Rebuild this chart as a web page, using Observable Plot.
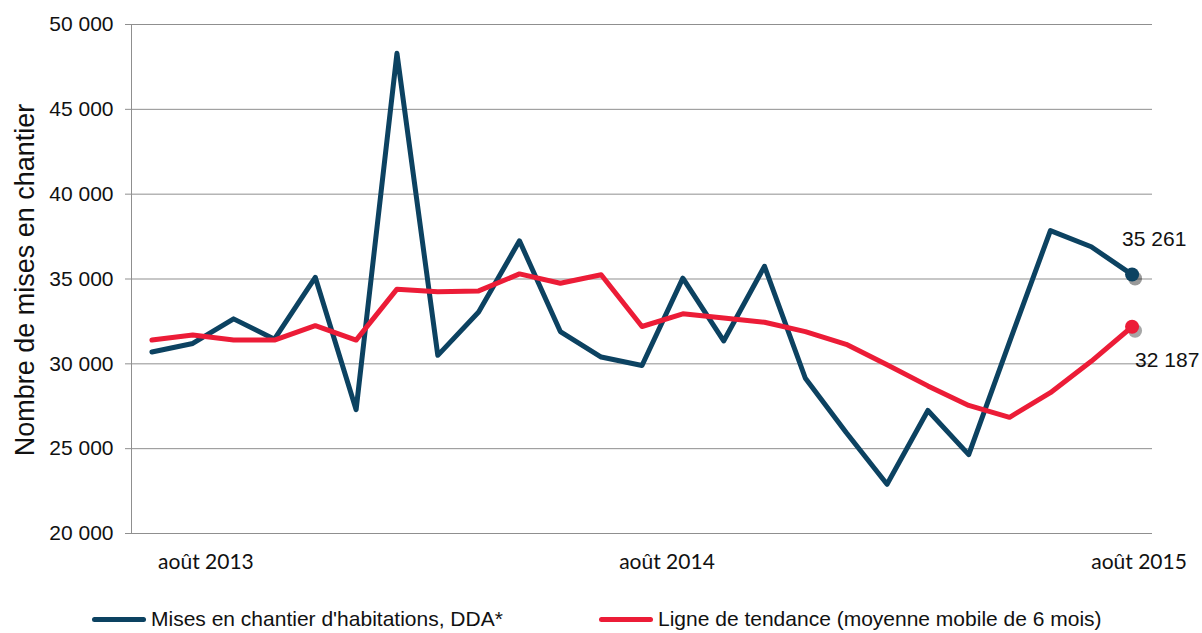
<!DOCTYPE html>
<html>
<head>
<meta charset="utf-8">
<script src="https://cdn.jsdelivr.net/npm/d3@7"></script>
<script src="https://cdn.jsdelivr.net/npm/@observablehq/plot@0.6"></script>
<style>
  html, body { margin: 0; padding: 0; background: #fff; }
  #wrap { position: relative; width: 1202px; height: 633px; overflow: hidden; font-family: "Liberation Sans", Arial, sans-serif; }
  .leg { position: absolute; top: 607px; display: flex; align-items: center; font-size: 21px; color: #111; white-space: nowrap; }
  .sw { width: 54px; height: 5px; border-radius: 3px; margin-right: 5px; }
  #ytitle { position: absolute; left: 25px; top: 280px; transform: translate(-50%, -50%) rotate(-90deg); font-size: 27px; color: #111; white-space: nowrap; line-height: 1; }
</style>
</head>
<body>
<div id="wrap"></div>
<script>
// ---- data ----
const months = ["2013-08","2013-09","2013-10","2013-11","2013-12","2014-01","2014-02","2014-03","2014-04","2014-05","2014-06","2014-07","2014-08","2014-09","2014-10","2014-11","2014-12","2015-01","2015-02","2015-03","2015-04","2015-05","2015-06","2015-07","2015-08"];
const miseEnChantier = [30700, 31200, 32650, 31450, 35100, 27300, 48300, 30500, 33050, 37250, 31900, 30400, 29900, 35050, 31350, 35750, 29150, 25950, 22900, 27250, 24650, 31300, 37850, 36900, 35261];
const tendance = [31400, 31700, 31400, 31400, 32250, 31400, 34400, 34250, 34300, 35300, 34750, 35250, 32200, 32950, 32700, 32450, 31900, 31150, 29950, 28700, 27550, 26850, 28300, 30150, 32187];
const yTicks = [20000, 25000, 30000, 35000, 40000, 45000, 50000];
const xTickMonths = ["2013-08", "2014-08", "2015-08"];
const xTickLabels = ["août 2013", "août 2014", "août 2015"];
const seriesNames = ["Mises en chantier d'habitations, DDA*", "Ligne de tendance (moyenne mobile de 6 mois)"];
const yTitle = "Nombre de mises en chantier";

// ---- build ----
const blue = "#0c4261";
const red = "#ec1c37";
const gray = "#8f8f8f";
const fmt = d3.formatLocale({thousands: " ", grouping: [3], decimal: ","}).format(",d");

const dda = months.map((m, i) => ({month: m, value: miseEnChantier[i]}));
const trend = months.map((m, i) => ({month: m, value: tendance[i]}));
const lastDda = [dda[dda.length - 1]];
const lastTrend = [trend[trend.length - 1]];
const labelOf = m => xTickLabels[xTickMonths.indexOf(m)];

const xTickShift = [54, 25, 7];

const chart = Plot.plot({
  width: 1202,
  height: 600,
  marginLeft: 131,
  marginRight: 50,
  marginTop: 24,
  marginBottom: 67,
  style: {fontFamily: "'Liberation Sans', Arial, sans-serif", color: "#111", background: "#fff"},
  x: {type: "point", domain: months, padding: 0.5, round: false},
  y: {domain: [20000, 50000]},
  marks: [
    Plot.gridY(yTicks, {stroke: gray, strokeOpacity: 1, strokeWidth: 1}),
    Plot.frame({anchor: "left", stroke: gray}),
    Plot.axisY({ticks: yTicks, tickFormat: fmt, tickSize: 6, tickPadding: 12, stroke: gray, fill: "#111", fontSize: 21, label: null}),
    ...xTickMonths.map((m, i) => Plot.axisX({ticks: [m], tickFormat: labelOf, tickSize: 0, tickPadding: 21, dx: xTickShift[i], fontSize: 21, fontFamily: "Lato, 'Open Sans', sans-serif", fill: "#111", label: null})),
    // shadows
    Plot.line(dda, {x: "month", y: "value", stroke: "#000", strokeOpacity: 0.45, strokeWidth: 5, dx: 3, dy: 4, ariaLabel: "shadow"}),
    Plot.line(trend, {x: "month", y: "value", stroke: "#000", strokeOpacity: 0.4, strokeWidth: 5, dx: 3, dy: 4, ariaLabel: "shadow"}),
    Plot.dot(lastDda, {x: "month", y: "value", r: 7, fill: "#000", fillOpacity: 0.4, dx: 3, dy: 4, ariaLabel: "shadow"}),
    Plot.dot(lastTrend, {x: "month", y: "value", r: 7, fill: "#000", fillOpacity: 0.35, dx: 3, dy: 4, ariaLabel: "shadow"}),
    // series
    Plot.line(dda, {x: "month", y: "value", stroke: blue, strokeWidth: 5, strokeLinejoin: "round"}),
    Plot.line(trend, {x: "month", y: "value", stroke: red, strokeWidth: 5, strokeLinejoin: "round"}),
    Plot.dot(lastDda, {x: "month", y: "value", r: 7, fill: blue}),
    Plot.dot(lastTrend, {x: "month", y: "value", r: 7, fill: red}),
    Plot.text(lastDda, {x: "month", y: "value", text: d => fmt(d.value), textAnchor: "start", dx: -10, dy: -35, fontSize: 21, fill: "#111"}),
    Plot.text(lastTrend, {x: "month", y: "value", text: d => fmt(d.value), textAnchor: "start", dx: 3, dy: 34, fontSize: 21, fill: "#111"})
  ]
});

chart.querySelectorAll('[aria-label="shadow"]').forEach(g => g.style.filter = "blur(2px)");

const wrap = document.getElementById("wrap");
wrap.appendChild(chart);

const yt = document.createElement("div");
yt.id = "ytitle";
yt.textContent = yTitle;
wrap.appendChild(yt);

const legendDefs = [{name: seriesNames[0], color: blue, left: 92}, {name: seriesNames[1], color: red, left: 599}];
for (const d of legendDefs) {
  const item = document.createElement("div");
  item.className = "leg";
  item.style.left = d.left + "px";
  const sw = document.createElement("span");
  sw.className = "sw";
  sw.style.background = d.color;
  const tx = document.createElement("span");
  tx.textContent = d.name;
  item.appendChild(sw);
  item.appendChild(tx);
  wrap.appendChild(item);
}
</script>
</body>
</html>
